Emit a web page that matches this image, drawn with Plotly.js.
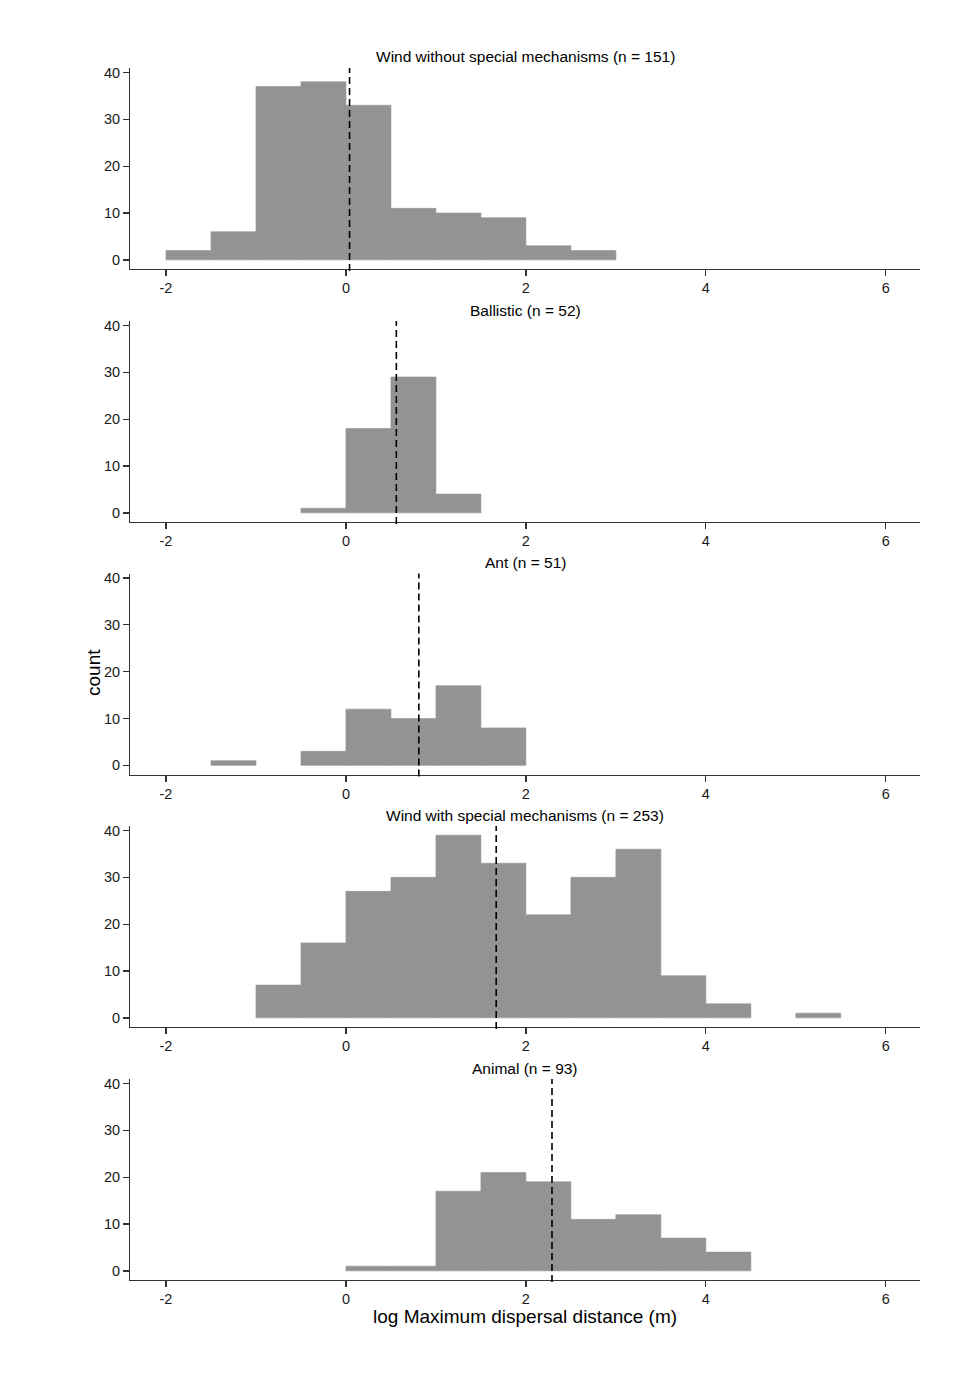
<!DOCTYPE html>
<html>
<head>
<meta charset="utf-8">
<script src="https://cdn.plot.ly/plotly-3.0.1.min.js"></script>
<style>html,body{margin:0;padding:0;background:#fff;}#chart{width:978px;height:1393px;}</style>
</head>
<body>
<div id="chart"></div>
<script>
// ---- Data (bin left edges, bin width 0.5) ----
const binWidth = 0.5;

const panelTitles = [
  "Wind without special mechanisms (n = 151)",
  "Ballistic (n = 52)",
  "Ant (n = 51)",
  "Wind with special mechanisms (n = 253)",
  "Animal (n = 93)"
];

const windNoBins   = [-2, -1.5, -1, -0.5, 0, 0.5, 1, 1.5, 2, 2.5];
const windNoCounts = [2, 6, 37, 38, 33, 11, 10, 9, 3, 2];

const ballisticBins   = [-0.5, 0, 0.5, 1];
const ballisticCounts = [1, 18, 29, 4];

const antBins   = [-1.5, -0.5, 0, 0.5, 1, 1.5];
const antCounts = [1, 3, 12, 10, 17, 8];

const windSpBins   = [-1, -0.5, 0, 0.5, 1, 1.5, 2, 2.5, 3, 3.5, 4, 5];
const windSpCounts = [7, 16, 27, 30, 39, 33, 22, 30, 36, 9, 3, 1];

const animalBins   = [0, 0.5, 1, 1.5, 2, 2.5, 3, 3.5, 4];
const animalCounts = [1, 1, 17, 21, 19, 11, 12, 7, 4];

const meanValues = [0.04, 0.56, 0.81, 1.67, 2.29];

const xTickVals = [-2, 0, 2, 4, 6];
const xTickText = ["-2", "0", "2", "4", "6"];
const yTickVals = [0, 10, 20, 30, 40];
const yTickText = ["0", "10", "20", "30", "40"];

const xAxisTitle = "log Maximum dispersal distance (m)";
const yAxisTitle = "count";

// ---- Layout geometry ----
const W = 978, H = 1393;
const panelTops = [68, 321, 573.5, 826, 1079];
const panelHeight = 201;
const xDom = [130 / W, 920 / W];

const bins = [windNoBins, ballisticBins, antBins, windSpBins, animalBins];
const counts = [windNoCounts, ballisticCounts, antCounts, windSpCounts, animalCounts];

const fontFam = "Liberation Sans, Arial, sans-serif";
const traces = [];
const shapes = [];
const annotations = [];
const layout = {
  width: W, height: H,
  margin: {l: 0, r: 0, t: 0, b: 0},
  paper_bgcolor: "#ffffff",
  plot_bgcolor: "#ffffff",
  showlegend: false,
  font: {family: fontFam, color: "#000"},
  shapes: shapes,
  annotations: annotations
};

for (let i = 0; i < 5; i++) {
  const n = i === 0 ? "" : String(i + 1);
  const top = panelTops[i], bot = top + panelHeight;
  traces.push({
    type: "bar",
    x: bins[i], y: counts[i],
    width: binWidth, offset: 0,
    marker: {color: "#939393", line: {width: 0.6, color: "#939393"}},
    xaxis: "x" + n, yaxis: "y" + n,
    hoverinfo: "x+y"
  });
  layout["xaxis" + n] = {
    domain: xDom, anchor: "y" + n,
    range: [-2.4, 6.38],
    showgrid: false, zeroline: false,
    showline: true, linecolor: "#333", linewidth: 1,
    ticks: "outside", ticklen: 6, tickwidth: 1.3, tickcolor: "#333",
    tickmode: "array", tickvals: xTickVals, ticktext: xTickText,
    tickfont: {size: 14.5, color: "#1a1a1a", family: fontFam}
  };
  layout["yaxis" + n] = {
    domain: [1 - bot / H, 1 - top / H], anchor: "x" + n,
    range: [-1.95, 40.95],
    showgrid: false, zeroline: false,
    showline: true, linecolor: "#333", linewidth: 1,
    ticks: "outside", ticklen: 6, tickwidth: 1.3, tickcolor: "#333",
    tickmode: "array", tickvals: yTickVals, ticktext: yTickText,
    tickfont: {size: 14.5, color: "#1a1a1a", family: fontFam}
  };
  shapes.push({
    type: "line", xref: "x" + n, yref: "y" + n + " domain",
    x0: meanValues[i], x1: meanValues[i], y0: -0.01, y1: 1,
    line: {color: "#000", width: 1.6, dash: "7px,4px"}
  });
  annotations.push({
    xref: "paper", yref: "paper",
    x: (xDom[0] + xDom[1]) / 2, y: 1 - (top - 11) / H,
    xanchor: "center", yanchor: "middle",
    text: panelTitles[i], showarrow: false,
    font: {size: 15.5, color: "#000", family: fontFam}
  });
}

annotations.push({
  xref: "paper", yref: "paper",
  x: (xDom[0] + xDom[1]) / 2, y: 1 - 1316 / H,
  xanchor: "center", yanchor: "middle",
  text: xAxisTitle, showarrow: false,
  font: {size: 19, color: "#000", family: fontFam}
});
annotations.push({
  xref: "paper", yref: "paper",
  x: 93 / W, y: 1 - 673 / H,
  xanchor: "center", yanchor: "middle",
  textangle: -90,
  text: yAxisTitle, showarrow: false,
  font: {size: 19, color: "#000", family: fontFam}
});

Plotly.newPlot("chart", traces, layout, {displayModeBar: false, staticPlot: true});
</script>
</body>
</html>
